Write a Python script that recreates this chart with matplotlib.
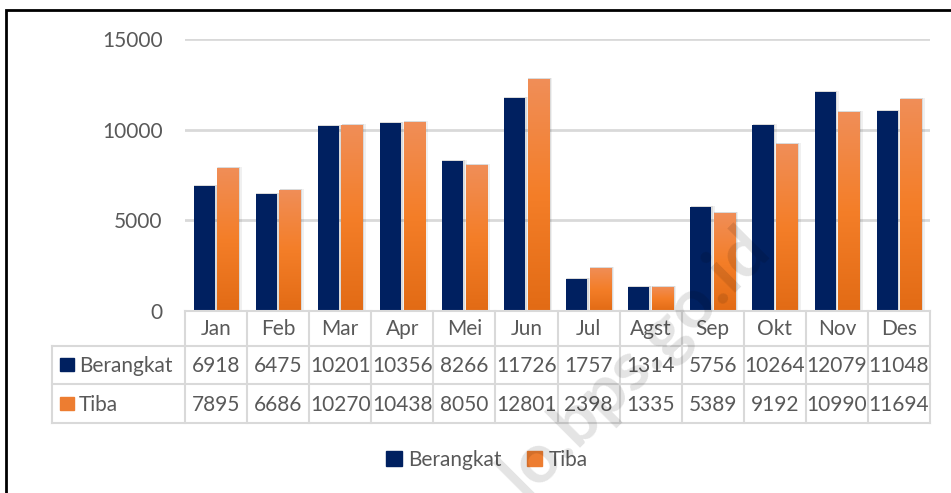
import numpy as np
import matplotlib
matplotlib.use("Agg")
import matplotlib.pyplot as plt
from matplotlib.patches import Rectangle, Patch
from matplotlib.lines import Line2D
from matplotlib.colors import LinearSegmentedColormap
from matplotlib.transforms import blended_transform_factory

# data
bulan = ['Jan', 'Feb', 'Mar', 'Apr', 'Mei', 'Jun', 'Jul', 'Agst', 'Sep', 'Okt', 'Nov', 'Des']
berangkat = [6918, 6475, 10201, 10356, 8266, 11726, 1757, 1314, 5756, 10264, 12079, 11048]
tiba = [7895, 6686, 10270, 10438, 8050, 12801, 2398, 1335, 5389, 9192, 10990, 11694]
yticks = [0, 5000, 10000, 15000]

plt.rcParams['font.family'] = ['Lato', 'DejaVu Sans']
txt_col = '#595959'
grid_col = '#d9d9d9'
navy = '#002060'
orange = '#ED7D31'
fs = 15

W, H = 951, 493
fig = plt.figure(figsize=(W / 100, H / 100), dpi=100)

def fx(px):
    return px / W

def fy(py):
    return 1 - py / H

ax = fig.add_axes([fx(185), fy(311), fx(930) - fx(185), fy(39) - fy(311)])
x = np.arange(len(bulan))
bw = 0.34
off = 0.19

# soft shadow behind bars
for dx, grow, a in [(0.03, 0.05, 0.06), (0.015, 0.025, 0.09)]:
    ax.bar(x - off + dx, np.array(berangkat) + 50, width=bw + grow, color='black', alpha=a, zorder=1)
    ax.bar(x + off + dx, np.array(tiba) + 50, width=bw + grow, color='black', alpha=a, zorder=1)

b1 = ax.bar(x - off, berangkat, width=bw, color=navy, zorder=3)
b2 = ax.bar(x + off, tiba, width=bw, color=orange, zorder=3)

# gradient for orange bars
cmap = LinearSegmentedColormap.from_list('og', ['#E26B15', '#F47E28', '#F08E58'])
grad = np.linspace(0, 1, 256).reshape(-1, 1)
for p in b2:
    im = ax.imshow(grad, cmap=cmap, origin='lower', aspect='auto', zorder=4,
                   extent=[p.get_x(), p.get_x() + p.get_width(), 0, p.get_height()])
    im.set_clip_path(p)

ax.set_xlim(-0.5, len(bulan) - 0.5)
ax.set_ylim(0, 15000)
ax.set_yticks(yticks)
ax.set_yticklabels([str(v) for v in yticks], fontsize=fs, color=txt_col)
ax.tick_params(axis='y', length=0, pad=16)
ax.set_xticks([])
ax.yaxis.grid(True, color=grid_col, lw=2)
ax.set_axisbelow(True)
for s in ax.spines.values():
    s.set_visible(False)

# data table below the axis
tr = blended_transform_factory(ax.transData, fig.transFigure)
rows = [311, 346, 384, 423]
for i in range(len(bulan) + 1):
    fig.add_artist(Line2D([i - 0.5, i - 0.5], [fy(rows[0]), fy(rows[3])], transform=tr,
                          color=grid_col, lw=1.5))
fig.add_artist(Line2D([-0.5, len(bulan) - 0.5], [fy(rows[0])] * 2, transform=tr, color=grid_col, lw=1.5))
for r in rows[1:]:
    fig.add_artist(Line2D([fx(52), fx(930)], [fy(r)] * 2, color=grid_col, lw=1.5))
fig.add_artist(Line2D([fx(52), fx(52)], [fy(rows[1]), fy(rows[3])], color=grid_col, lw=1.5))

for i in range(len(bulan)):
    fig.text(i, fy(329), bulan[i], transform=tr, ha='center', va='center', fontsize=fs, color=txt_col)
    fig.text(i, fy(366), str(berangkat[i]), transform=tr, ha='center', va='center', fontsize=fs, color=txt_col)
    fig.text(i, fy(405), str(tiba[i]), transform=tr, ha='center', va='center', fontsize=fs, color=txt_col)

fig.add_artist(Rectangle((fx(60), fy(371)), fx(14), 13 / H, color=navy))
fig.add_artist(Rectangle((fx(60), fy(410)), fx(14), 13 / H, color=orange))
fig.text(fx(79), fy(366), 'Berangkat', ha='left', va='center', fontsize=fs, color=txt_col)
fig.text(fx(79), fy(405), 'Tiba', ha='left', va='center', fontsize=fs, color=txt_col)

# legend
handles = [Patch(color=navy, label='Berangkat'), Patch(color=orange, label='Tiba')]
fig.legend(handles=handles, loc='center', bbox_to_anchor=(fx(487), fy(460)), ncol=2,
           frameon=False, fontsize=fs, labelcolor=txt_col, handlelength=0.75, handleheight=0.75,
           handletextpad=0.3, columnspacing=1.2)

# watermark
fig.text(fx(635), fy(362), 'lo.bps.go.id', rotation=45, ha='center', va='center',
         fontsize=50, fontweight='bold', color='black', alpha=0.11, zorder=20)

# frame
fig.add_artist(Rectangle((fx(6), -0.1), 1.0, fy(10) + 0.1, fill=False, lw=2, color='black'))

fig.savefig('out.png', dpi=100)
